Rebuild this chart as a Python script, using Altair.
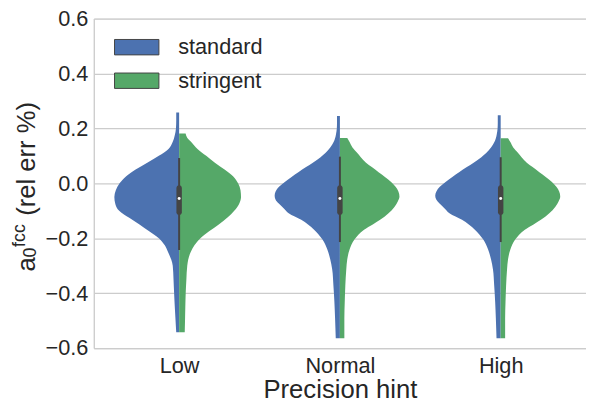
import altair as alt
import pandas as pd

HINTS = ["Low", "Normal", "High"]
SERIES = ["standard", "stringent"]
COLORS = ["#4C72B0", "#55A868"]
Y_TICKS = [-0.6, -0.4, -0.2, 0.0, 0.2, 0.4, 0.6]

# Violin outlines: value (y) and half-width
# (in 1/166.3 of a category slot) at that value.
LOW_STD_Y = [0.258, 0.23, 0.20, 0.175, 0.15, 0.125, 0.10, 0.075, 0.05, 0.025, 0.0,
             -0.025, -0.05, -0.075, -0.10, -0.125, -0.15, -0.175, -0.20, -0.225,
             -0.25, -0.30, -0.35, -0.40, -0.45, -0.50, -0.543]
LOW_STD_W = [3, 3, 3.3, 4.5, 6.7, 11, 21, 33, 45, 55, 61.6, 65.5, 67, 66, 62, 52,
             41, 31, 21, 15, 11.5, 6.6, 5.8, 5.2, 4.5, 3.7, 3]
LOW_STR_Y = [0.181, 0.165, 0.15, 0.125, 0.10, 0.075, 0.05, 0.025, 0.0, -0.025,
             -0.05, -0.075, -0.10, -0.125, -0.15, -0.175, -0.20, -0.225, -0.25,
             -0.30, -0.35, -0.40, -0.45, -0.50, -0.543]
LOW_STR_W = [6.7, 8.5, 12.5, 19, 28, 37, 47, 56, 61, 63.5, 64, 62, 57, 50, 41, 31,
             22, 16, 12, 8.4, 7.5, 6.8, 6.4, 6.1, 5.8]

NORMAL_STD_Y = [0.245, 0.22, 0.20, 0.18, 0.164, 0.15, 0.13, 0.11, 0.095, 0.075,
                0.059, 0.04, 0.023, 0.005, -0.013, -0.03, -0.045, -0.06, -0.073,
                -0.09, -0.109, -0.133, -0.15, -0.169, -0.205, -0.241, -0.277,
                -0.313, -0.373, -0.432, -0.492, -0.564]
NORMAL_STD_W = [3, 3, 3.2, 4, 5, 6.5, 10, 15, 20, 28, 35, 43, 50, 57, 63, 66.5,
                67.5, 66.5, 63.5, 58.5, 53, 40, 33, 26.7, 18, 13, 10, 8, 6.7, 5.7,
                5, 4.3]
NORMAL_STR_Y = [0.165, 0.15, 0.13, 0.11, 0.095, 0.075, 0.059, 0.04, 0.023, 0.005,
                -0.013, -0.03, -0.049, -0.065, -0.085, -0.11, -0.133, -0.15,
                -0.169, -0.205, -0.241, -0.277, -0.313, -0.373, -0.432, -0.492,
                -0.564]
NORMAL_STR_W = [7.6, 10, 13, 18, 21.6, 27, 33, 40, 46.6, 53, 57.6, 60.5, 61.6, 60,
                56.6, 50, 41.6, 34, 25, 15, 10, 7.6, 6.6, 5.6, 5, 4.6, 4.6]

HIGH_STD_Y = [0.248, 0.22, 0.20, 0.18, 0.164, 0.15, 0.13, 0.11, 0.095, 0.075,
              0.059, 0.04, 0.023, 0.005, -0.013, -0.03, -0.045, -0.06, -0.073,
              -0.09, -0.109, -0.133, -0.15, -0.169, -0.205, -0.241, -0.277,
              -0.313, -0.373, -0.432, -0.492, -0.564]
HIGH_STD_W = [3, 3, 3.2, 4, 5, 6.5, 10, 15, 20, 28, 35, 43, 50, 57, 63, 66.5, 67.7,
              66.5, 63.5, 58.5, 53, 40, 33, 26.7, 18, 13, 10, 8, 6.7, 5.7, 5, 4.3]
HIGH_STR_Y = [0.164, 0.15, 0.13, 0.11, 0.095, 0.075, 0.059, 0.04, 0.023, 0.005,
              -0.013, -0.03, -0.049, -0.065, -0.085, -0.11, -0.133, -0.15, -0.169,
              -0.205, -0.241, -0.277, -0.313, -0.373, -0.432, -0.492, -0.564]
HIGH_STR_W = [7.6, 10, 13, 18, 21.6, 27, 33, 40, 46.6, 53, 57.6, 60.5, 61.6, 60,
              56.6, 50, 41.6, 34, 25, 15, 10, 7.6, 6.6, 5.6, 5, 4.6, 4.6]

# Inner box (pooled data) per hint
WHISK_LO = [-0.243, -0.214, -0.214]
WHISK_HI = [0.092, 0.097, 0.095]
Q1 = [-0.115, -0.115, -0.115]
Q3 = [-0.007, -0.007, -0.007]
MEDIAN = [-0.055, -0.055, -0.055]

WIDTH_UNIT = 166.3  # half-width readings are in 1/166.3 of a category slot

profiles = {
    ("Low", "standard"): (LOW_STD_Y, LOW_STD_W),
    ("Low", "stringent"): (LOW_STR_Y, LOW_STR_W),
    ("Normal", "standard"): (NORMAL_STD_Y, NORMAL_STD_W),
    ("Normal", "stringent"): (NORMAL_STR_Y, NORMAL_STR_W),
    ("High", "standard"): (HIGH_STD_Y, HIGH_STD_W),
    ("High", "stringent"): (HIGH_STR_Y, HIGH_STR_W),
}
rows = []
for (hint, side), (ys, ws) in profiles.items():
    for y, w in zip(ys, ws):
        rows.append({"hint": hint, "idx": HINTS.index(hint), "side": side,
                     "y": y, "w": w / WIDTH_UNIT})
vdf = pd.DataFrame(rows)

bdf = pd.DataFrame({"hint": HINTS, "idx": list(range(len(HINTS))),
                    "lo": WHISK_LO, "hi": WHISK_HI, "q1": Q1, "q3": Q3,
                    "med": MEDIAN})

FONT = "Liberation Sans"
TEXT = "#262626"
GRAY = "#444444"

label_expr = " : ".join(
    [f"datum.value < {i + 1} ? '{h}'" for i, h in enumerate(HINTS[:-1])]
) + f" : '{HINTS[-1]}'"

x_scale = alt.Scale(domain=[0, len(HINTS)], nice=False, zero=False)
y_scale = alt.Scale(domain=[-0.6, 0.6], nice=False, zero=False)

x_axis = alt.Axis(values=[i + 0.5 for i in range(len(HINTS))], labelExpr=label_expr,
                  grid=False, ticks=False, domain=True, domainColor="#cccccc",
                  domainWidth=1.25, labelFont=FONT, labelFontSize=22,
                  labelColor=TEXT, labelPadding=8, title="Precision hint",
                  titleFont=FONT, titleFontSize=26, titleFontWeight="normal",
                  titleColor=TEXT, titleY=50.5, titleBaseline="alphabetic")
y_axis = alt.Axis(values=Y_TICKS, format=".1f", grid=True, gridColor="#cccccc",
                  gridWidth=1.25, ticks=False, domain=True, domainColor="#cccccc",
                  domainWidth=1.25, labelFont=FONT, labelFontSize=22,
                  labelColor=TEXT, labelPadding=6, title=None)

legend = alt.Legend(title=None, orient="none", legendX=20.5, legendY=6,
                    symbolType="M-1,-0.347L1,-0.347L1,0.347L-1,0.347Z",
                    symbolSize=2025, symbolStrokeColor=GRAY, symbolStrokeWidth=1,
                    symbolOpacity=1, labelFont=FONT, labelFontSize=22,
                    labelColor=TEXT, labelOffset=19, rowPadding=-3.5, padding=0)

violins = alt.Chart(vdf).transform_calculate(
    x_lo="datum.side == 'standard' ? datum.idx + 0.5 - datum.w : datum.idx + 0.5",
    x_hi="datum.side == 'standard' ? datum.idx + 0.5 : datum.idx + 0.5 + datum.w",
).mark_area(orient="horizontal", interpolate="monotone", opacity=1).encode(
    y=alt.Y("y:Q", scale=y_scale, axis=y_axis),
    x=alt.X("x_lo:Q", scale=x_scale, axis=x_axis),
    x2="x_hi:Q",
    color=alt.Color("side:N", scale=alt.Scale(domain=SERIES, range=COLORS),
                    legend=legend),
    detail="hint:N",
)

base = alt.Chart(bdf).transform_calculate(c="datum.idx + 0.5")
whisk = base.mark_rule(color=GRAY, strokeWidth=2).encode(
    x=alt.X("c:Q", scale=x_scale), y=alt.Y("lo:Q", scale=y_scale), y2="hi:Q")
box = base.mark_bar(color=GRAY, width=5.5, cornerRadius=2.7).encode(
    x=alt.X("c:Q", scale=x_scale), y=alt.Y("q1:Q", scale=y_scale), y2="q3:Q")
med = base.mark_circle(color="white", size=9, opacity=1).encode(
    x=alt.X("c:Q", scale=x_scale), y=alt.Y("med:Q", scale=y_scale))

one = pd.DataFrame({"k": [0]})


def ylabel_part(txt, px, py, fs):
    return alt.Chart(one).mark_text(
        text=txt, angle=270, align="left", baseline="alphabetic", font=FONT,
        fontSize=fs, color=TEXT).encode(x=alt.value(px), y=alt.value(py))


ylab = [
    ylabel_part("a", -60, 256.5, 26),
    ylabel_part("0", -58.7, 242.3, 18),
    ylabel_part("fcc", -69.7, 231.5, 18),
    ylabel_part("(rel err %)", -60, 200, 26),
]

chart = alt.layer(violins, whisk, box, med, *ylab).properties(
    width=499, height=334,
    autosize=alt.AutoSizeParams(type="none"),
    padding={"left": 87, "top": 8, "right": 0, "bottom": 52},
).configure_view(stroke=None).configure(background="white")

chart.save("out.html", embed_options={"renderer": "svg", "actions": False})
